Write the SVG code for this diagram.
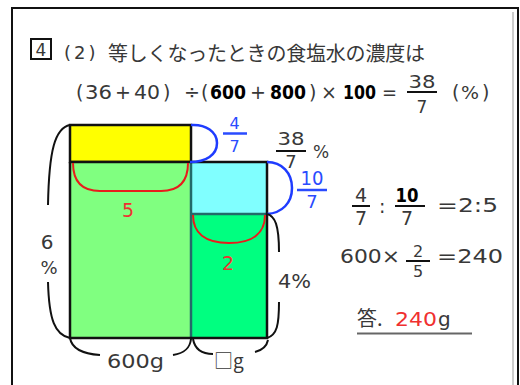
<svg xmlns="http://www.w3.org/2000/svg" width="520" height="385" viewBox="0 0 520 385">
<style>
.t{font-family:"DejaVu Sans","Noto Sans CJK JP",sans-serif;fill:#383838}
.j{font-family:"Noto Sans CJK JP",sans-serif;fill:#383838}
.b{font-weight:bold;fill:#000}
.blue{fill:#2a4bff}
.red{fill:#f03030}
.br{fill:none;stroke:#111;stroke-width:2}
.arcb{fill:none;stroke:#1f3cff;stroke-width:2.5}
.arcr{fill:none;stroke:#e81c1c;stroke-width:2}
.fl{stroke:#111;stroke-width:2}
.flb{stroke:#2a4bff;stroke-width:2.5}
</style>
<rect width="520" height="385" fill="#fff"/>
<g id="frame">
<rect x="12" y="8" width="506" height="400" fill="none" stroke="#111" stroke-width="2"/>
<line x1="513" y1="12" x2="513" y2="385" stroke="#999" stroke-width="1"/>
</g>
<g id="title">
<rect x="31" y="39" width="20" height="20" fill="none" stroke="#111" stroke-width="2"/>
<text class="t" x="41" y="56" font-size="17" text-anchor="middle">4</text>
<text class="t" x="64" y="59" font-size="18" letter-spacing="3">(2)</text>
<text class="j" x="108" y="61" font-size="20" textLength="317">等しくなったときの食塩水の濃度は</text>
</g>
<g id="formula">
<text class="t" x="76" y="99" font-size="19">(</text>
<text class="t" x="85" y="99" font-size="19" textLength="27" lengthAdjust="spacingAndGlyphs">36</text>
<text class="t" x="115" y="99" font-size="19">+</text>
<text class="t" x="134" y="99" font-size="19" textLength="26" lengthAdjust="spacingAndGlyphs">40</text>
<text class="t" x="163" y="99" font-size="19">)</text>
<text class="t" x="184" y="99" font-size="19">÷</text>
<text class="t" x="201" y="99" font-size="19">(</text>
<text class="t b" x="210" y="99" font-size="19" textLength="36" lengthAdjust="spacingAndGlyphs">600</text>
<text class="t" x="250" y="99" font-size="19">+</text>
<text class="t b" x="270" y="99" font-size="19" textLength="36" lengthAdjust="spacingAndGlyphs">800</text>
<text class="t" x="309" y="99" font-size="19">)</text>
<text class="t" x="321" y="99" font-size="19">×</text>
<text class="t b" x="343" y="99" font-size="19" textLength="33" lengthAdjust="spacingAndGlyphs">100</text>
<text class="t" x="382" y="99" font-size="19" textLength="15" lengthAdjust="spacingAndGlyphs">=</text>
<text class="t" x="422" y="88" font-size="17" text-anchor="middle" textLength="27" lengthAdjust="spacingAndGlyphs">38</text>
<line class="fl" x1="407" y1="92" x2="437" y2="92"/>
<text class="t" x="422" y="113" font-size="17" text-anchor="middle">7</text>
<text class="t" x="452" y="99" font-size="19">(</text>
<text class="t" x="461" y="99" font-size="18" textLength="18" lengthAdjust="spacingAndGlyphs">%</text>
<text class="t" x="482" y="99" font-size="19">)</text>
</g>
<g id="yellow"><rect x="70" y="125" width="121" height="37" fill="#ffff00" stroke="#111" stroke-width="2.5"/></g>
<g id="lightgreen"><rect x="70" y="162" width="121" height="176" fill="#80ff80"/></g>
<g id="cyan"><rect x="191" y="162" width="76" height="52" fill="#80ffff"/></g>
<g id="green"><rect x="191" y="214" width="76" height="124" fill="#00ff80"/></g>
<g id="borders">
<line x1="191" y1="162" x2="191" y2="338" stroke="#236a6a" stroke-width="2.5"/>
<line x1="191" y1="214" x2="267" y2="214" stroke="#236a6a" stroke-width="2.5"/>
<path d="M70,162 V338 H267 V162 H70" fill="none" stroke="#111" stroke-width="2.5"/>
</g>
<g id="connectors">
<path class="arcr" d="M73,163 C73,184 84,191 100,191 L161,191 C177,191 188,184 188,163"/>
<path class="arcr" d="M193,215 C193,233 205,243 229,243 C253,243 265,233 265,215"/>
<path class="arcb" d="M191,125 C206,124 217,132 217,143 C217,155 206,162 190,162"/>
<path class="arcb" d="M267,162 C282,162 292,173 292,188 C292,203 282,213 267,214"/>
<path class="br" d="M70,125 C55,128 49,150 48,205"/>
<path class="br" d="M48,282 C49,320 55,335 70,338"/>
<path class="br" d="M267,214 C275,216 279,225 279,252"/>
<path class="br" d="M279,302 C279,325 277,335 267,338"/>
<path class="br" d="M70,338 C72,350 85,354 100,355"/>
<path class="br" d="M173,355 C185,353 190,348 191,339"/>
<path class="br" d="M193,339 C195,350 203,354 213,354"/>
<path class="br" d="M255,352 C263,350 267,345 268,340"/>
</g>
<g id="labels">
<text class="t red" x="128" y="217" font-size="19" text-anchor="middle">5</text>
<text class="t red" x="228" y="270" font-size="19" text-anchor="middle">2</text>
<text class="t blue" x="234.5" y="129" font-size="16" text-anchor="middle">4</text>
<line class="flb" x1="223" y1="133.5" x2="247" y2="133.5"/>
<text class="t blue" x="234.5" y="152" font-size="16" text-anchor="middle">7</text>
<text class="t" x="291" y="145" font-size="18" text-anchor="middle" textLength="27" lengthAdjust="spacingAndGlyphs">38</text>
<line class="fl" x1="276" y1="151" x2="306" y2="151"/>
<text class="t" x="291" y="168" font-size="18" text-anchor="middle">7</text>
<text class="t" x="313" y="158" font-size="17">%</text>
<text class="t blue" x="312" y="185" font-size="20" text-anchor="middle" textLength="23" lengthAdjust="spacingAndGlyphs">10</text>
<line class="flb" x1="297" y1="190" x2="327" y2="190"/>
<text class="t blue" x="312" y="208" font-size="18" text-anchor="middle">7</text>
<text class="t" x="47" y="249" font-size="20" text-anchor="middle">6</text>
<text class="t" x="49" y="274" font-size="18" text-anchor="middle">%</text>
<text class="t" x="278" y="288" font-size="19" textLength="33" lengthAdjust="spacingAndGlyphs">4%</text>
<text class="t" x="107" y="368" font-size="19" textLength="57" lengthAdjust="spacingAndGlyphs">600g</text>
<text class="j" x="214" y="368" font-size="19">□g</text>
</g>
<g id="ratio">
<text class="t" x="361" y="202" font-size="19" text-anchor="middle">4</text>
<line class="fl" x1="352" y1="206" x2="370" y2="206"/>
<text class="t" x="361" y="225" font-size="19" text-anchor="middle">7</text>
<text class="t" x="379" y="213" font-size="19">:</text>
<text class="t b" x="407" y="202" font-size="19" text-anchor="middle" textLength="23" lengthAdjust="spacingAndGlyphs">10</text>
<line class="fl" x1="395" y1="206" x2="425" y2="206"/>
<text class="t" x="407" y="225" font-size="19" text-anchor="middle">7</text>
<text class="t" x="437" y="212" font-size="20" textLength="61" lengthAdjust="spacingAndGlyphs">=2:5</text>
</g>
<g id="calc">
<text class="t" x="340" y="263" font-size="19" textLength="60" lengthAdjust="spacingAndGlyphs">600×</text>
<text class="t" x="418" y="257" font-size="16" text-anchor="middle">2</text>
<line class="fl" x1="406" y1="261" x2="430" y2="261"/>
<text class="t" x="418" y="277" font-size="16" text-anchor="middle">5</text>
<text class="t" x="437" y="263" font-size="19" textLength="66" lengthAdjust="spacingAndGlyphs">=240</text>
</g>
<g id="answer">
<text class="j" x="357" y="326" font-size="20">答.</text>
<text class="t red" x="395" y="326" font-size="20" textLength="42" lengthAdjust="spacingAndGlyphs">240</text>
<text class="t" x="438" y="326" font-size="20">g</text>
<line x1="357" y1="333.5" x2="472" y2="333.5" stroke="#666" stroke-width="2"/>
</g>
</svg>
